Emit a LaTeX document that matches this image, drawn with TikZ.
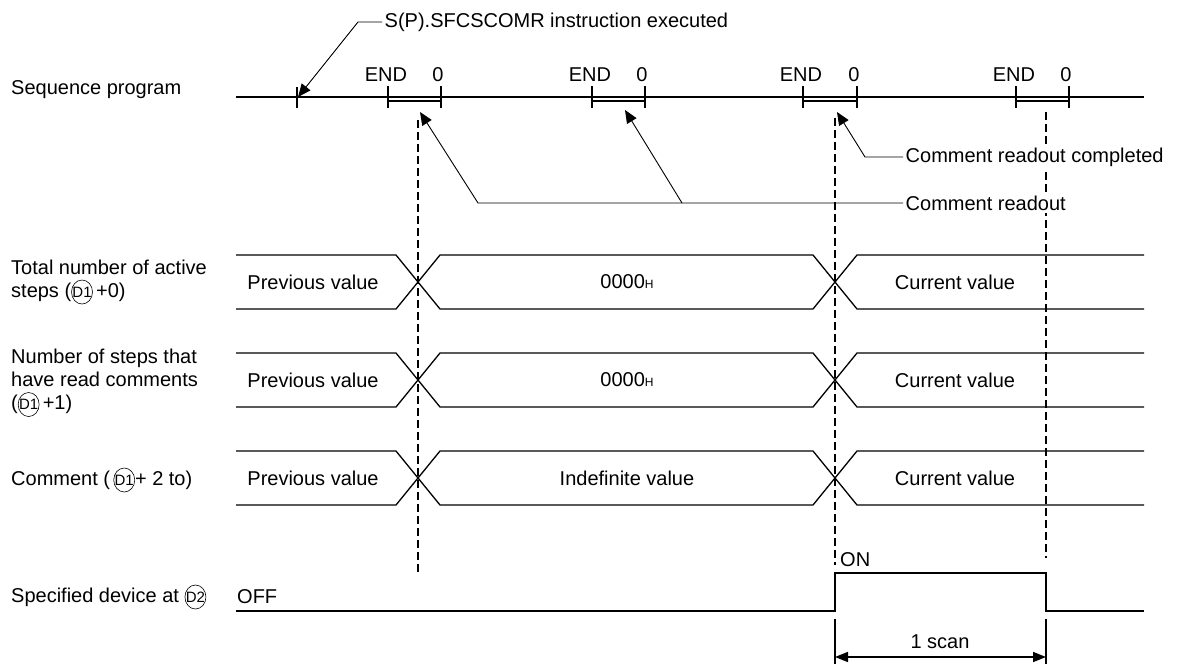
\documentclass[tikz,border=0pt]{standalone}
\usepackage{fontspec}
\setmainfont{Liberation Sans}
\usepackage{tikz}
\usetikzlibrary{arrows.meta,positioning,calc}
\newcommand{\dev}[1]{\tikz[baseline]{\node[inner sep=0pt, anchor=base,
    font=\fontsize{15}{15}\selectfont] (dv) {#1};
  \draw[line width=0.6pt] (dv.center) ellipse [x radius=10.5pt, y radius=12pt];}}
\newcommand{\hex}{{\fontsize{12}{12}\selectfont H}}

\begin{document}
\begin{tikzpicture}[x=1pt, y=-1pt,
      font=\fontsize{20}{23}\selectfont,
      wave/.style={line width=1.3pt},
      lbl/.style={anchor=west, align=left, inner sep=0pt},
      val/.style={inner sep=0pt},
      note/.style={anchor=west, inner sep=2.5pt, fill=white},
      lead/.style={line width=0.9pt, -{Triangle[length=13pt, width=11pt]}},
      guide/.style={line width=1.4pt, dash pattern=on 8pt off 4pt},
      span/.style={line width=1.6pt,
        {Triangle[length=13pt, width=10pt]}-{Triangle[length=13pt, width=10pt]}},
    ]
    \useasboundingbox (0,0) rectangle (1181,664);

    % Timing guides
    \draw[guide] (418,120) -- (418,572);
    \draw[guide] (835,118) -- (835,565);
    \draw[guide] (1046,112) -- (1046,558);

    % Row labels
    \node[lbl] (seqlbl) at (11,90) {Sequence program};
    \node[lbl] (totlbl) at (11,282) {Total number of active\\steps (\dev{D1}\,+0)};
    \node[lbl] (readlbl) at (11,383) {Number of steps that\\have read comments\\(\dev{D1}\,+1)};
    \node[lbl] (cmtlbl) at (11,480) {Comment (\,\dev{D1}+ 2 to)};
    \node[lbl] (devlbl) at (11,597) {Specified device at \dev{D2}};

    % Sequence program with END processing
    \draw[wave] (236,97) -- (1144,97);
    \draw[wave] (297,87) -- (297,108);
    \draw[wave] (388,86) -- (388,108) (441,86) -- (441,108) (388,101) -- (441,101);
    \draw[wave] (592,86) -- (592,108) (645,86) -- (645,108) (592,101) -- (645,101);
    \draw[wave] (803,86) -- (803,108) (857,86) -- (857,108) (803,101) -- (857,101);
    \draw[wave] (1016,86) -- (1016,108) (1069,86) -- (1069,108) (1016,101) -- (1069,101);
    \node[val, anchor=base] (end1) at (386,81) {END};
    \node[val, anchor=base] (zero1) at (438,81) {0};
    \node[val, anchor=base] (end2) at (590,81) {END};
    \node[val, anchor=base] (zero2) at (642,81) {0};
    \node[val, anchor=base] (end3) at (801,81) {END};
    \node[val, anchor=base] (zero3) at (854,81) {0};
    \node[val, anchor=base] (end4) at (1014,81) {END};
    \node[val, anchor=base] (zero4) at (1066,81) {0};

    % Instruction executed
    \node[note] (sfcmd) at (382,22) {S(P).SFCSCOMR instruction executed};
    \coordinate (sfbend) at (358,22);
    \coordinate (sftip) at (298,97);
    \draw[lead] (sfcmd.west) -- (sfbend) -- (sftip);

    % Comment readout
    \node[note] (rdout) at (903,203) {Comment readout};
    \coordinate (rdbend1) at (478,203);
    \coordinate (rdbend2) at (682,203);
    \coordinate (rdtip1) at (420,112);
    \coordinate (rdtip2) at (625,110);
    \draw[lead] (rdout.west) -- (rdbend1) -- (rdtip1);
    \draw[lead] (rdbend2) -- (rdtip2);

    % Comment readout completed
    \node[note] (rddone) at (903,157) {Comment readout completed};
    \coordinate (donebend) at (865,157);
    \coordinate (donetip) at (837,112);
    \draw[lead] (rddone.west) -- (donebend) -- (donetip);

    % Total number of active steps
    \draw[wave] (236,255) -- (396,255) -- (440,309) -- (813,309) -- (857,255) -- (1144,255);
    \draw[wave] (236,309) -- (396,309) -- (440,255) -- (813,255) -- (857,309) -- (1144,309);
    \node[val] (prev1) at (313,282) {Previous value};
    \node[val] (init1) at (627,282) {0000\hex};
    \node[val] (cur1) at (955,282) {Current value};

    % Number of steps that have read comments
    \draw[wave] (236,353) -- (396,353) -- (440,407) -- (813,407) -- (857,353) -- (1144,353);
    \draw[wave] (236,407) -- (396,407) -- (440,353) -- (813,353) -- (857,407) -- (1144,407);
    \node[val] (prev2) at (313,380) {Previous value};
    \node[val] (init2) at (627,380) {0000\hex};
    \node[val] (cur2) at (955,380) {Current value};

    % Comment
    \draw[wave] (236,451) -- (396,451) -- (440,505) -- (813,505) -- (857,451) -- (1144,451);
    \draw[wave] (236,505) -- (396,505) -- (440,451) -- (813,451) -- (857,505) -- (1144,505);
    \node[val] (prev3) at (313,478) {Previous value};
    \node[val] (indef3) at (627,478) {Indefinite value};
    \node[val] (cur3) at (955,478) {Current value};

    % Specified device
    \node[val, anchor=west] (offlbl) at (237,597) {OFF};
    \draw[wave] (236,611) -- (835,611) -- (835,573) -- (1046,573) -- (1046,611) -- (1144,611);
    \node[val, anchor=west] (onlbl) at (840,560) {ON};

    % One scan
    \draw[line width=1.6pt] (835,619) -- (835,664) (1046,619) -- (1046,664);
    \coordinate (scanA) at (835,657);
    \coordinate (scanB) at (1046,657);
    \draw[span] (scanA) -- (scanB);
    \node[val] (scan) at (940,642) {1 scan};
  \end{tikzpicture}
\end{document}
